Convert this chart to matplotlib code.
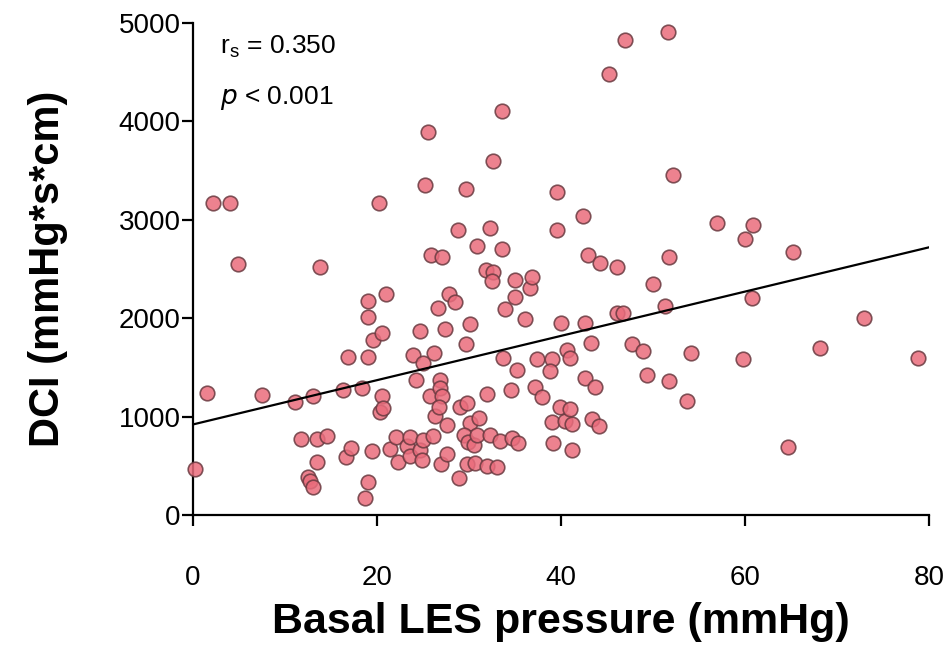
import numpy as np
import matplotlib
matplotlib.use("Agg")
import matplotlib.pyplot as plt

plt.rcParams['font.family'] = ['Liberation Sans', 'DejaVu Sans']

# Basal LES pressure (mmHg)
les_pressure = [
    0.2, 1.5, 2.2, 4.0, 4.9, 7.5, 11.1, 11.7, 12.5, 12.7, 13.0, 13.0, 13.5, 13.5, 13.8, 14.6,
    16.3, 16.6, 16.8, 17.2, 18.4, 18.7, 19.0, 19.0, 19.0, 19.0, 19.5, 19.6, 20.2, 20.5, 20.5,
    20.3, 20.7, 21.0, 21.4, 22.1, 22.3, 23.3, 23.6, 23.6, 23.9, 24.2, 24.7, 24.7, 24.9, 25.0,
    25.0, 25.2, 25.5, 25.9, 27.1, 25.8, 26.2, 26.3, 26.1, 26.6, 26.8, 26.8, 27.1, 26.7, 27.6,
    27.0, 27.6, 27.8, 28.5, 27.4, 28.8, 29.0, 29.8, 29.7, 30.1, 29.7, 30.1, 31.1, 29.5, 29.9,
    30.5, 30.9, 30.9, 31.8, 32.6, 32.5, 32.0, 32.3, 32.3, 32.6, 33.4, 33.6, 33.6, 33.9, 33.7,
    28.9, 29.8, 30.7, 32.0, 33.0, 34.6, 34.7, 35.3, 35.0, 35.0, 35.2, 36.1, 36.6, 36.8, 37.2,
    37.4, 37.9, 39.0, 38.8, 39.0, 39.1, 39.6, 39.6, 39.9, 40.0, 40.4, 40.7, 41.0, 41.0, 41.2,
    41.2, 42.4, 42.6, 42.6, 43.7, 42.9, 43.3, 43.4, 44.1, 44.2, 45.2, 46.1, 46.1, 46.7, 47.0,
    47.7, 48.9, 49.3, 50.0, 51.3, 51.6, 51.7, 51.7, 52.2, 53.7, 54.1, 57.0, 59.8, 60.0, 60.8,
    60.9, 64.7, 65.2, 68.2, 72.9, 78.8,
]

# DCI (mmHg*s*cm)
dci = [
    470, 1235, 3175, 3175, 2555, 1215, 1150, 775, 390, 350, 280, 1205, 775, 540, 2515, 805,
    1275, 585, 1610, 685, 1295, 175, 330, 2170, 2015, 1610, 655, 1775, 3175, 1845, 1205,
    1050, 1090, 2250, 675, 795, 540, 705, 795, 595, 1630, 1375, 1865, 665, 560, 765,
    1540, 3350, 3890, 2645, 2625, 1205, 1650, 1010, 805, 2100, 1375, 1295, 1205, 1100, 910,
    520, 615, 2250, 2160, 1895, 2900, 1100, 1140, 1740, 1945, 3310, 930, 990, 815, 745,
    715, 815, 2730, 2485, 2465, 2375, 1225, 815, 2920, 3595, 755, 4110, 2700, 2090, 1600,
    380, 520, 530, 500, 490, 1265, 785, 735, 2385, 2220, 1470, 1995, 2310, 2415, 1305,
    1580, 1195, 1580, 1460, 940, 735, 3280, 2900, 1100, 1955, 950, 1680, 1600, 1080, 920,
    665, 3035, 1955, 1395, 1305, 2645, 1750, 980, 900, 2565, 4480, 2525, 2055, 2055, 4825,
    1740, 1670, 1425, 2350, 2120, 4905, 2625, 1365, 3450, 1160, 1650, 2965, 1590, 2800, 2200,
    2950, 695, 2670, 1700, 2005, 1600,
]

# regression line
fit_x = [0, 80]
fit_intercept = 920
fit_slope = 22.5

fig = plt.figure(figsize=(9.52, 6.62), dpi=100)
ax = fig.add_axes([0.2027, 0.2221, 0.7731, 0.7432])

ax.scatter(les_pressure, dci, s=110, facecolor='#EA6C7C', edgecolor='#6a3a40',
           linewidth=1.2, alpha=0.85, zorder=3, clip_on=False)

fx = np.array(fit_x, dtype=float)
ax.plot(fx, fit_intercept + fit_slope * fx, color='black', lw=1.6, zorder=4)

ax.set_xlim(0, 80)
ax.set_ylim(0, 5000)
ax.set_xticks([0, 20, 40, 60, 80])
ax.set_yticks([0, 1000, 2000, 3000, 4000, 5000])

for side in ['top', 'right']:
    ax.spines[side].set_visible(False)
for side in ['left', 'bottom']:
    ax.spines[side].set_linewidth(1.6)

ax.tick_params(axis='both', labelsize=20, width=1.6, length=8, direction='out')
ax.tick_params(axis='x', pad=28)
ax.tick_params(axis='y', pad=1)

ax.set_xlabel('Basal LES pressure (mmHg)', fontsize=31, fontweight='bold', labelpad=8)
ax.set_ylabel('DCI (mmHg*s*cm)', fontsize=30, fontweight='bold', labelpad=36)

ax.text(0.037, 0.952, r'r$_\mathregular{s}$ = 0.350', transform=ax.transAxes,
        fontsize=19, va='center', ha='left')
ax.text(0.037, 0.847, r'$\mathregular{\it{p}}$ < 0.001', transform=ax.transAxes,
        fontsize=19, va='center', ha='left')

plt.savefig('out.png', dpi=100)
